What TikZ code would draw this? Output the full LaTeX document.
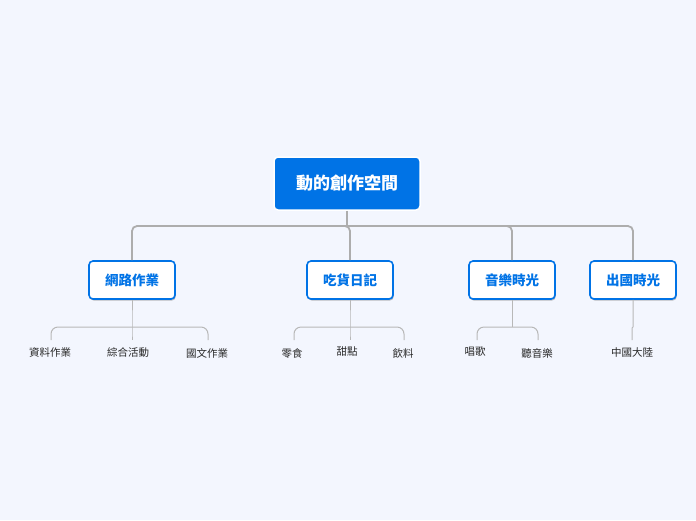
\documentclass[tikz,border=0pt]{standalone}
\usepackage{fontspec}
\setmainfont{Noto Sans CJK TC}
\usetikzlibrary{shadows}
\definecolor{bg}{HTML}{F3F6FE}
\definecolor{mainblue}{HTML}{0073E6}
\definecolor{linegray}{HTML}{ADADAD}
\definecolor{leafgray}{HTML}{B8B8B8}
\begin{document}
\begin{tikzpicture}[x=1pt,y=-1pt,
  rootbox/.style={draw=white,line width=1.5pt,fill=mainblue,rounded corners=4pt,minimum width=146pt,minimum height=53pt,text=white,font=\fontsize{17}{20}\selectfont\bfseries,inner sep=0pt},
  branchbox/.style={draw=mainblue,line width=1.6pt,fill=white,rounded corners=4pt,minimum width=86pt,minimum height=38pt,text=mainblue,font=\fontsize{13.5}{16}\selectfont\bfseries,inner sep=0pt,drop shadow={shadow xshift=0.8pt,shadow yshift=-1.6pt,opacity=0.35,fill=black!70}},
  leaf/.style={font=\fontsize{10.5}{12}\selectfont,text=black!85,inner sep=1pt},
  trunk/.style={draw=linegray,line width=1.8pt,rounded corners=5pt},
  twig/.style={draw=leafgray,line width=1pt,rounded corners=7pt}]
\fill[bg] (0,0) rectangle (696,520);
\useasboundingbox (0,0) rectangle (696,520);
% root
\node[rootbox] (root) at (347,183.5) {動的創作空間};
% branches
\node[branchbox] (b1) at (132,280) {網路作業};
\node[branchbox] (b2) at (350,280) {吃貨日記};
\node[branchbox] (b3) at (512,280) {音樂時光};
\node[branchbox] (b4) at (633,280) {出國時光};
% leaves
\node[leaf] (l11) at (50,352) {資料作業};
\node[leaf] (l12) at (128,353) {綜合活動};
\node[leaf] (l13) at (207,353) {國文作業};
\node[leaf] (l21) at (292,353) {零食};
\node[leaf] (l22) at (347,352) {甜點};
\node[leaf] (l23) at (403,353) {飲料};
\node[leaf] (l31) at (475,352) {唱歌};
\node[leaf] (l32) at (537,353) {聽音樂};
\node[leaf] (l41) at (632,353) {中國大陸};
% trunk
\coordinate (j0) at (347,226);
\draw[trunk] (root.south) -- (j0);
\draw[trunk] (b1.north) -- (b1.north |- j0) -- (b4.north |- j0) -- (b4.north);
\draw[trunk] (j0) -| (b2.north);
\draw[trunk] (j0) -| (b3.north);
% twigs
\coordinate (k1) at (132,327);
\draw[twig] (b1.south) -- (k1) -- (132,340);
\draw[twig] (51,340) -- (51,327) -- (208,327) -- (208,340);
\coordinate (k2) at (350,327);
\draw[twig] (b2.south) -- (k2) -- (350,340);
\draw[twig] (294,340) -- (294,327) -- (404,327) -- (404,340);
\coordinate (k3) at (512,327);
\draw[twig] (b3.south) -- (k3);
\draw[twig] (477,340) -- (477,327) -- (538,327) -- (538,340);
\coordinate (k4) at (633,327);
\draw[draw=leafgray,line width=1pt] (b4.south) -- (k4) -- (632,328) -- (632,340);
\end{tikzpicture}
\end{document}
